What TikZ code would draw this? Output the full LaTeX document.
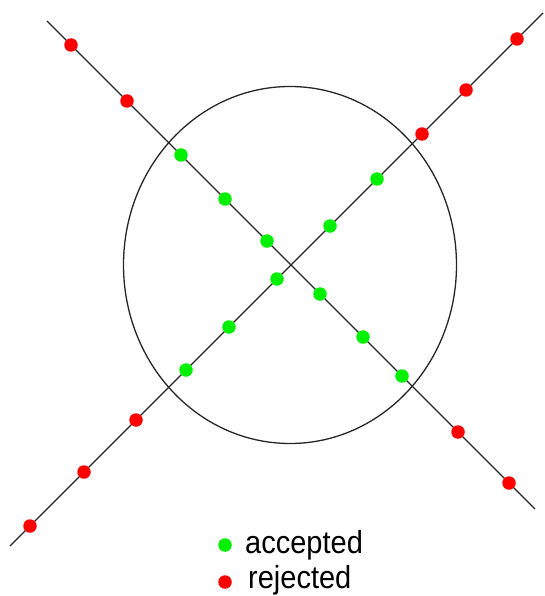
\documentclass[tikz,border=0pt]{standalone}
\usepackage{fontspec}
\setmainfont{Liberation Sans}
\usepackage{xcolor}
\usepackage{tikz}
\usetikzlibrary{shapes.geometric, positioning}
\definecolor{acceptgreen}{HTML}{00F000}
\definecolor{rejectred}{HTML}{FF0000}
\definecolor{linegray}{HTML}{262626}

\begin{document}
\begin{tikzpicture}[
    x=1pt, y=-1pt,
    sample/.style={
      circle, inner sep=0pt, minimum size=13.5pt
    },
    accpt/.style={sample, fill=acceptgreen},
    rejct/.style={sample, fill=rejectred},
    axisline/.style={draw=linegray, line width=1.3pt},
    region/.style={
      ellipse, draw=linegray, line width=1.3pt,
      minimum width=333pt, minimum height=357pt, inner sep=0pt
    },
    legtext/.style={font=\fontsize{29}{31}\selectfont, inner sep=0pt, anchor=base west},
  ]
  \useasboundingbox (0,0) rectangle (545,596);

  \node[region] (disc) at (290,265) {};

  \coordinate (a0) at (47,21);
  \coordinate (a1) at (535,509);
  \coordinate (b0) at (10,546);
  \coordinate (b1) at (543,13);
  \draw[axisline] (a0) -- (a1);
  \draw[axisline] (b0) -- (b1);

  \node[rejct] (ra1) at (71,45) {};
  \node[rejct] (ra2) at (127,101) {};
  \node[accpt] (ga1) at (181,155) {};
  \node[accpt] (ga2) at (225,199) {};
  \node[accpt] (ga3) at (267,241) {};
  \node[accpt] (ga4) at (320,294) {};
  \node[accpt] (ga5) at (363,337) {};
  \node[accpt] (ga6) at (402,376) {};
  \node[rejct] (ra3) at (458,432) {};
  \node[rejct] (ra4) at (509,483) {};

  \node[rejct] (rb1) at (30,526) {};
  \node[rejct] (rb2) at (84,472) {};
  \node[rejct] (rb3) at (136,420) {};
  \node[accpt] (gb1) at (186,370) {};
  \node[accpt] (gb2) at (229,327) {};
  \node[accpt] (gb3) at (277,279) {};
  \node[accpt] (gb4) at (330,226) {};
  \node[accpt] (gb5) at (377,179) {};
  \node[rejct] (rb4) at (422,134) {};
  \node[rejct] (rb5) at (466,90) {};
  \node[rejct] (rb6) at (517,39) {};

  \node[accpt] (legacc) at (225,545) {};
  \node[rejct] (legrej) at (225,582) {};
  \node[legtext] (labacc) at (245,553) {\scalebox{1}[1.1]{accepted}};
  \node[legtext] (labrej) at (248,588) {\scalebox{1}[1.1]{rejected}};
\end{tikzpicture}
\end{document}
